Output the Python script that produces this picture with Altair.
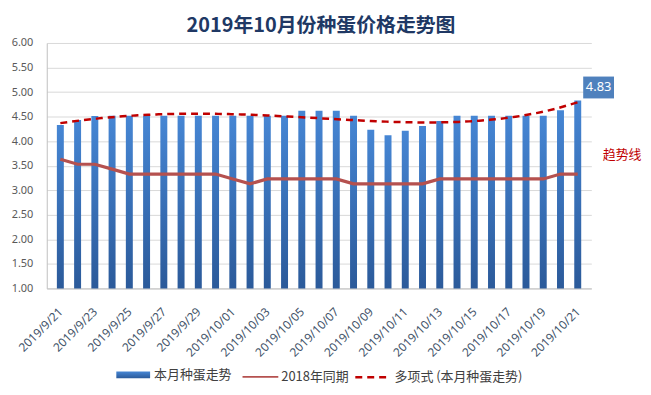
import altair as alt
import pandas as pd

dates = ["2019/9/%d" % d for d in range(21, 31)] + ["2019/10/%02d" % d for d in range(1, 22)]
price_2019 = [4.33, 4.43, 4.51, 4.52, 4.52, 4.52, 4.52, 4.52, 4.52, 4.52,
              4.52, 4.52, 4.52, 4.52, 4.62, 4.62, 4.62, 4.52, 4.23, 4.12,
              4.21, 4.31, 4.41, 4.52, 4.52, 4.52, 4.52, 4.52, 4.52, 4.63, 4.83]
price_2018 = [3.63, 3.53, 3.53, 3.43, 3.33, 3.33, 3.33, 3.33, 3.33, 3.33,
              3.23, 3.13, 3.23, 3.23, 3.23, 3.23, 3.23, 3.13, 3.13, 3.13,
              3.13, 3.13, 3.23, 3.23, 3.23, 3.23, 3.23, 3.23, 3.23, 3.33, 3.33]
series_names = ["本月种蛋走势", "2018年同期", "多项式 (本月种蛋走势)"]
title_text = "2019年10月份种蛋价格走势图"
trend_note = "趋势线"
y_ticks = [1.0, 1.5, 2.0, 2.5, 3.0, 3.5, 4.0, 4.5, 5.0, 5.5, 6.0]
x_tick_index = list(range(1, 32, 2))

df = pd.DataFrame({
    "i": list(range(1, len(dates) + 1)),
    "date": dates,
    "v": price_2019,
    "v18": price_2018,
    "s1": series_names[0],
    "s2": series_names[1],
    "s3": series_names[2],
})

label_expr = "[" + ",".join("'%s'" % d for d in dates) + "][datum.value - 1]"
CJK = "Noto Sans CJK SC"

x_axis = alt.Axis(values=x_tick_index, labelExpr=label_expr,
                  labelAngle=-45, labelAlign="right", labelBaseline="middle",
                  grid=False, ticks=False, domainColor="#BFBFBF",
                  labelColor="#44546A", labelFontSize=12, labelFont="Noto Sans",
                  labelPadding=21, title=None, labelOverlap=False)
x_enc = alt.X("i:Q", scale=alt.Scale(domain=[0.5, 31.5], nice=False, zero=False), axis=x_axis)
y_scale = alt.Scale(domain=[1, 6], nice=False, zero=False)
y_axis = alt.Axis(values=y_ticks, format=".2f", grid=True, gridColor="#D9D9D9",
                  ticks=False, domainColor="#BFBFBF", labelColor="#595959",
                  labelFontSize=11, labelFont="Noto Sans", labelPadding=14, title=None)
y_enc = alt.Y("v:Q", scale=y_scale, axis=y_axis)

base = alt.Chart(df)

bar_grad = alt.Gradient(gradient="linear", x1=0, x2=0, y1=0, y2=1,
                        stops=[alt.GradientStop(color="#4686D4", offset=0),
                               alt.GradientStop(color="#2B5A9A", offset=1)])

bars = base.mark_bar(size=7, fill=bar_grad).encode(
    x=x_enc,
    y=y_enc,
    y2=alt.datum(1),
    opacity=alt.Opacity("s1:N", scale=alt.Scale(range=[1]),
                        legend=alt.Legend(orient="none", legendX=70, legendY=317, title=None,
                                          symbolType="M-1,-0.2L1,-0.2L1,0.2L-1,0.2Z",
                                          symbolSize=1156, symbolFillColor="#3C72B8",
                                          symbolStrokeWidth=0, labelFont=CJK, labelFontSize=13,
                                          labelColor="#404040", padding=0, labelOffset=4)),
)

line18 = base.mark_line(strokeWidth=3.2).encode(
    x=x_enc,
    y=alt.Y("v18:Q", scale=y_scale, axis=y_axis),
    stroke=alt.Stroke("s2:N", scale=alt.Scale(range=["#B5514F"]),
                      legend=alt.Legend(orient="none", legendX=196, legendY=317, title=None,
                                        symbolType="stroke", symbolSize=1296,
                                        symbolStrokeWidth=2, labelFont=CJK, labelFontSize=13,
                                        labelColor="#404040", padding=0, labelOffset=2)),
)

trend = base.transform_regression("i", "v", method="poly", order=4, groupby=["s3"]).mark_line(
    strokeWidth=2.5, color="#C00000").encode(
    x=x_enc,
    y=y_enc,
    strokeDash=alt.StrokeDash("s3:N", scale=alt.Scale(range=[[7, 5]]),
                              legend=alt.Legend(orient="none", legendX=309, legendY=317, title=None,
                                                symbolType="stroke", symbolSize=1296,
                                                symbolStrokeWidth=2.5, symbolStrokeColor="#C00000",
                                                symbolDash=[7, 5],
                                                labelFont=CJK, labelFontSize=13,
                                                labelColor="#404040", padding=0, labelOffset=2)),
)

last = base.transform_filter("datum.i == 31")
box = last.mark_point(shape="M-1,-0.71L1,-0.71L1,0.71L-1,0.71Z", size=961, filled=True,
                      color="#4F81BD", opacity=1, xOffset=21, yOffset=-13).encode(x=x_enc, y=y_enc)
box_text = last.mark_text(color="white", fontSize=13, font="Noto Sans", xOffset=21, yOffset=-13,
                          baseline="middle", align="center").encode(
    x=x_enc, y=y_enc, text=alt.Text("v:Q", format=".2f"))

note = alt.Chart(pd.DataFrame({"t": [trend_note]})).mark_text(
    color="#C00000", fontSize=13, font=CJK, align="center", baseline="middle").encode(
    x=alt.value(579), y=alt.value(113), text="t:N")

chart = alt.layer(bars, line18, trend, box, box_text, note).resolve_scale(
    opacity="independent", stroke="independent", strokeDash="independent"
).properties(
    width=548, height=247,
    autosize=alt.AutoSizeParams(type="none"),
    padding={"left": 39, "top": 34, "right": 52, "bottom": 98},
    title=alt.TitleParams(title_text, font=CJK, fontSize=20, fontWeight="bold",
                          color="#203864", anchor="middle", frame="group", offset=1, dx=2),
).configure_view(stroke=None).configure_axisX(labelOverlap=False)

chart.save("out.html", embed_options={"renderer": "svg", "actions": False})
